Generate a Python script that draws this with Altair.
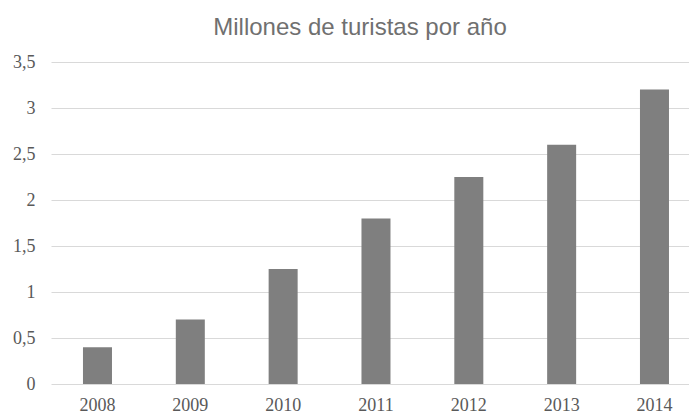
import altair as alt
import pandas as pd

years = ["2008", "2009", "2010", "2011", "2012", "2013", "2014"]
values = [0.4, 0.7, 1.25, 1.8, 2.25, 2.6, 3.2]
y_ticks = [0, 0.5, 1, 1.5, 2, 2.5, 3, 3.5]

df = pd.DataFrame({"year": years, "value": values})

serif = "Liberation Serif, Times New Roman, DejaVu Serif, serif"

chart = alt.Chart(df).mark_bar(color="#7f7f7f").encode(
    x=alt.X(
        "year:N",
        sort=years,
        title=None,
        scale=alt.Scale(paddingInner=0.6875, paddingOuter=0.28, align=0.615),
        axis=alt.Axis(
            labelAngle=0, domain=False, ticks=False, grid=False,
            labelFont=serif, labelFontSize=18, labelColor="#595959",
            labelPadding=12,
        ),
    ),
    y=alt.Y(
        "value:Q",
        title=None,
        scale=alt.Scale(domain=[0, 3.5], nice=False),
        axis=alt.Axis(
            values=y_ticks, domain=False, ticks=False, grid=True,
            gridColor="#d9d9d9", gridWidth=1,
            labelFont=serif, labelFontSize=18, labelColor="#595959",
            labelPadding=16,
            labelExpr="replace(toString(datum.value), '.', ',')",
        ),
    ),
).properties(
    width=638,
    height=322,
    autosize=alt.AutoSizeParams(type="none"),
    padding={"left": 51, "top": 62, "right": 0, "bottom": 30},
    title=alt.TitleParams(
        "Millones de turistas por año",
        font="Liberation Sans, Arial, sans-serif",
        fontSize=24, fontWeight="normal",
        color="#707070", anchor="middle", dx=-10, offset=13,
    ),
).configure_view(stroke=None)

chart.save("out.html", embed_options={"renderer": "svg", "actions": False})
